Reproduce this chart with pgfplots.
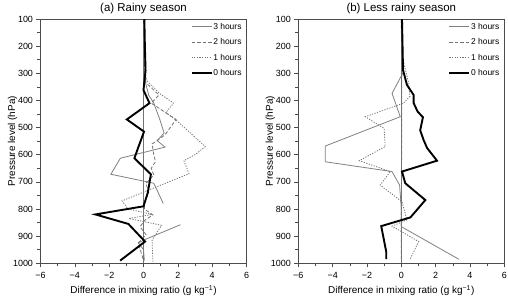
\documentclass[border=0pt]{standalone}
\usepackage{fontspec}
\setmainfont{Liberation Sans}
\usepackage{pgfplots}
\pgfplotsset{compat=1.18}

\pgfplotsset{
  panel/.style={
    scale only axis, width=206bp, height=244.3bp,
    xmin=-6, xmax=6, ymin=100, ymax=1000, y dir=reverse,
    xtick={-6,-4,...,6}, xticklabels={−6,−4,−2,0,2,4,6}, minor x tick num=1,
    ytick={100,200,...,1000}, minor y tick num=1,
    tick align=outside, xtick pos=bottom, ytick pos=left,
    major tick length=4bp, minor tick length=3bp,
    axis line style={black!70, line width=0.7bp},
    every tick/.style={black!70, line width=0.6bp},
    tick label style={font=\fontsize{9}{10}\selectfont},
    xticklabel style={yshift=-1.5bp},
    /pgf/number format/assume math mode=true,
    /pgf/number format/1000 sep={},
    xlabel={Difference in mixing ratio (g kg\textsuperscript{−1})},
    ylabel={Pressure level (hPa)},
    label style={font=\fontsize{9.5}{11}\selectfont},
    every axis x label/.style={at={(axis description cs:0.5,-0.112)}, anchor=center},
    every axis y label/.style={at={(axis description cs:-0.136,0.5)}, rotate=90, anchor=center},
    every axis title/.style={font=\fontsize{11.5}{13}\selectfont, at={(axis description cs:0.5,1)}, anchor=base, inner sep=0bp, yshift=8bp},
    legend style={draw=none, fill=none, at={(axis description cs:1,1)}, anchor=north east,
      font=\fontsize{8.5}{10}\selectfont, row sep=6.3bp, inner xsep=4bp, inner ysep=3bp,
      nodes={inner sep=0.8bp}},
    legend cell align=left,
    legend image code/.code={\draw[##1] (0bp,0bp) -- (20bp,0bp);},
    unbounded coords=jump,
  },
  h3/.style={black!50, line width=0.8bp},
  h2/.style={black!55, line width=0.8bp, dash pattern=on 3.5bp off 2bp},
  h1/.style={black!55, line width=0.8bp, dash pattern=on 1.2bp off 1.4bp},
  h0/.style={black, line width=1.9bp},
}

\begin{document}
\begin{tikzpicture}
\path[use as bounding box] (0,0) rectangle (508bp,297bp);

% ---------- (a) Rainy season ----------
\begin{axis}[panel, at={(40.5bp,33.7bp)}, anchor=south west, title={(a) Rainy season}]
\addplot[black!55, line width=0.7bp, forget plot] coordinates {(0,100) (0,1000)};
\addplot[h3] coordinates {
(0,100) (0.05,250) (0.1,330) (0.3,380) (0.6,410) (0.95,470) (1.2,520) (0.8,548) (1.25,572)
(-1.35,613) (-1.9,672) (0.6,705) (1.15,780) (nan,820) (2.15,858) (0.1,912) (-0.3,925)
(0,950) (0.05,990)};
\addlegendentry{3 hours}
\addplot[h2] coordinates {
(0,100) (0.05,300) (0.15,335) (0.9,380) (0.45,410) (1.9,470) (1.25,527) (0.75,550)
(0.5,560) (0.6,600) (0.7,625) (0.45,650) (0.6,675) (0.15,705) (0.3,740) (0.05,775)
(0.05,800) (0.55,822) (0.1,840) (-0.2,865) (0.15,895) (-0.3,925) (0,990)};
\addlegendentry{2 hours}
\addplot[h1] coordinates {
(0,100) (0.05,300) (0.25,331) (0.95,375) (1.75,410) (1.3,445) (2.0,478) (3.6,570)
(3.0,600) (2.35,622) (2.65,670) (-1.25,770) (-0.9,800) (0.5,820) (-0.85,835)
(1.05,860) (0.5,915) (0.55,995)};
\addlegendentry{1 hours}
\addplot[h0] coordinates {
(0.05,100) (0.08,200) (0.12,290) (0,362) (0.35,410) (-0.97,470) (0.03,515) (-0.3,572)
(-0.53,613) (0.43,672) (0.25,740) (0,790) (-2.8,820) (-0.88,855) (0.09,920) (-1.36,990)};
\addlegendentry{0 hours}
\end{axis}

% ---------- (b) Less rainy season ----------
\begin{axis}[panel, at={(298.3bp,33.7bp)}, anchor=south west, title={(b) Less rainy season}]
\addplot[black!55, line width=0.7bp, forget plot] coordinates {(0,100) (0,1000)};
\addplot[h3] coordinates {
(0,100) (0.05,250) (0.13,294) (-0.54,374) (-0.06,460) (-4.43,568) (-4.43,626)
(-0.54,662) (-0.1,712) (0,797) (0,865) (3.35,985)};
\addlegendentry{3 hours}
\addplot[h2] coordinates {
(0,100) (0.02,300) (0.02,600) (0,800) (0,990)};
\addlegendentry{2 hours}
\addplot[h1] coordinates {
(0,100) (0.1,250) (0.43,337) (0.5,385) (0.13,410) (-2.1,460) (-1.0,503) (-0.94,570)
(-2.45,622) (-0.64,662) (-1.23,712) (0.04,773) (0.33,840) (-0.54,863) (1.01,920) (0.49,988)};
\addlegendentry{1 hours}
\addplot[h0] coordinates {
(0.04,100) (0.1,288) (0.33,343) (0.72,380) (0.72,410) (0.95,441) (1.26,462) (1.1,510)
(1.3,546) (1.5,575) (2.08,622) (0.04,662) (0.23,705) (1.4,767) (0.53,831) (-1.17,863)
(-0.88,957) (-0.88,985)};
\addlegendentry{0 hours}
\end{axis}
\end{tikzpicture}
\end{document}
